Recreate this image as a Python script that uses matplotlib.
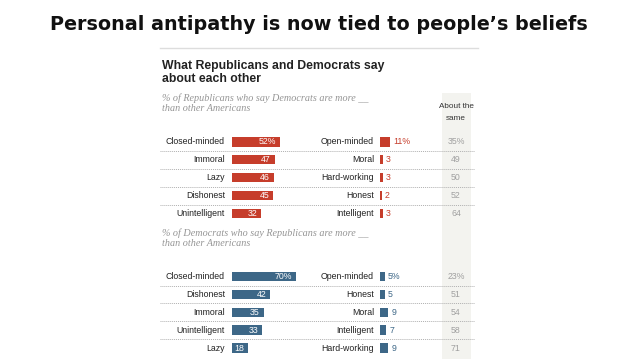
import numpy as np
import matplotlib
matplotlib.use("Agg")
import matplotlib.pyplot as plt

# data
rep_left = ["Closed-minded", "Immoral", "Lazy", "Dishonest", "Unintelligent"]
rep_left_vals = [52, 47, 46, 45, 32]
rep_right = ["Open-minded", "Moral", "Hard-working", "Honest", "Intelligent"]
rep_right_vals = [11, 3, 3, 2, 3]
rep_same = [35, 49, 50, 52, 64]

dem_left = ["Closed-minded", "Dishonest", "Immoral", "Unintelligent", "Lazy"]
dem_left_vals = [70, 42, 35, 33, 18]
dem_right = ["Open-minded", "Honest", "Moral", "Intelligent", "Hard-working"]
dem_right_vals = [5, 5, 9, 7, 9]
dem_same = [23, 51, 54, 58, 71]

RED = "#c63d2b"
BLUE = "#3d6787"
GRAY_TXT = "#a0a0a0"
PX = 0.925          # px per percentage point
W, H = 638, 359

fig = plt.figure(figsize=(W / 100, H / 100), dpi=100)
ax = fig.add_axes([0, 0, 1, 1])
ax.set_xlim(0, W)
ax.set_ylim(H, 0)
ax.axis("off")

ax.text(318.5, 24, "Personal antipathy is now tied to people\u2019s beliefs",
        ha="center", va="center", fontsize=13.8, fontweight="bold",
        family="DejaVu Sans", color="#111111")

# light band behind "About the same"
ax.axvspan(442, 471, ymin=0, ymax=1 - 93 / H, color="#f3f3ef", lw=0, zorder=0)
ax.plot([160, 478], [47.5, 47.5], color="#dddddd", lw=1)

ax.text(162, 66, "What Republicans and Democrats say", fontsize=8.8,
        fontweight="bold", family="Liberation Sans", color="#222222", va="center")
ax.text(162, 79.5, "about each other", fontsize=8.8,
        fontweight="bold", family="Liberation Sans", color="#222222", va="center")
ax.text(456, 107, "About the", fontsize=5.9, family="Liberation Sans",
        color="#333333", ha="center", va="center")
ax.text(456, 118, "same", fontsize=5.9, family="Liberation Sans",
        color="#333333", ha="center", va="center")


def section(y0, sub1, sub2, left, lvals, right, rvals, same, color):
    ax.text(162, y0 - 43.5, sub1, fontsize=7.3, style="italic",
            family="Liberation Serif", color="#959595", va="center")
    ax.text(162, y0 - 33.5, sub2, fontsize=7.3, style="italic",
            family="Liberation Serif", color="#959595", va="center")
    ys = y0 + np.arange(len(left)) * 17.9
    ax.barh(ys, np.array(lvals) * PX, left=231.5, height=9.5, color=color)
    ax.barh(ys, np.array(rvals) * PX, left=380, height=9.5, color=color)
    for i, y in enumerate(ys):
        sfx = "%" if i == 0 else ""
        ax.text(225, y, left[i], ha="right", va="center", fontsize=6.3,
                family="Liberation Sans", color="#222222")
        ax.text(231.5 + lvals[i] * PX - 4, y, f"{lvals[i]}{sfx}", ha="right",
                va="center", fontsize=6.3, family="Liberation Sans", color="white")
        ax.text(374, y, right[i], ha="right", va="center", fontsize=6.3,
                family="Liberation Sans", color="#222222")
        ax.text(380 + rvals[i] * PX + 3, y, f"{rvals[i]}{sfx}", ha="left",
                va="center", fontsize=6.3, family="Liberation Sans", color=color)
        ax.text(456, y, f"{same[i]}{sfx}", ha="center", va="center",
                fontsize=6.3, family="Liberation Sans", color=GRAY_TXT)
        if i < len(ys) - 1:
            ax.plot([160, 474], [y + 9, y + 9], color="#b0b0b0", lw=0.7,
                    ls=(0, (1, 1)))


section(141.8, "% of Republicans who say Democrats are more __",
        "than other Americans", rep_left, rep_left_vals, rep_right,
        rep_right_vals, rep_same, RED)
section(276.5, "% of Democrats who say Republicans are more __",
        "than other Americans", dem_left, dem_left_vals, dem_right,
        dem_right_vals, dem_same, BLUE)

fig.savefig("out.png", dpi=100)
